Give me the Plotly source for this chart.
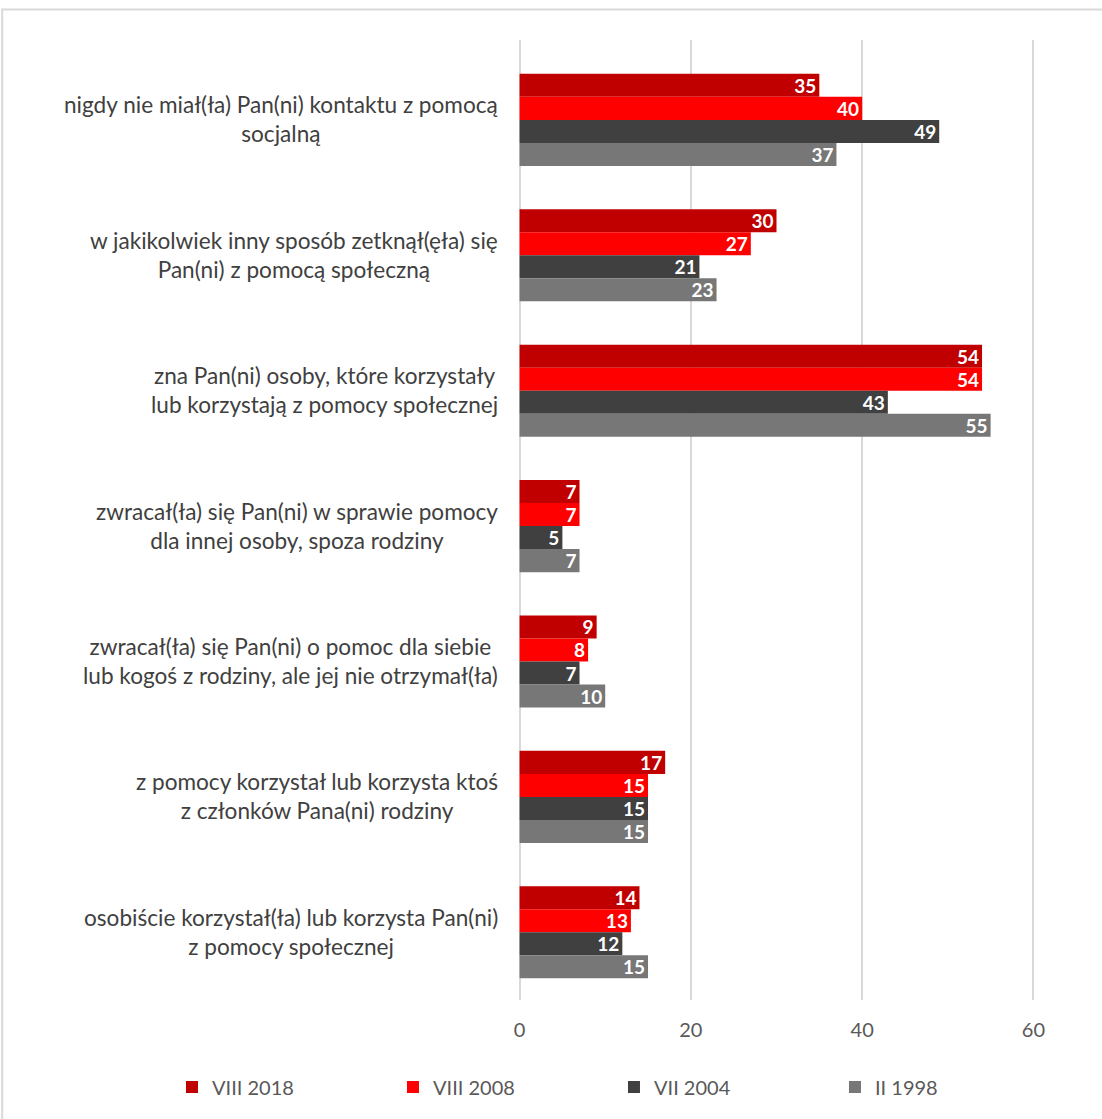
import plotly.graph_objects as go

# ---- data ----
label_line1 = [
    "nigdy nie miał(ła) Pan(ni) kontaktu z pomocą",
    "w jakikolwiek inny sposób zetknął(ęła) się",
    "zna Pan(ni) osoby, które korzystały",
    "zwracał(ła) się Pan(ni) w sprawie pomocy",
    "zwracał(ła) się Pan(ni) o pomoc dla siebie",
    "z pomocy korzystał lub korzysta ktoś",
    "osobiście korzystał(ła) lub korzysta Pan(ni)",
]
label_line2 = [
    "socjalną",
    "Pan(ni) z pomocą społeczną",
    "lub korzystają z pomocy społecznej",
    "dla innej osoby, spoza rodziny",
    "lub kogoś z rodziny, ale jej nie otrzymał(ła)",
    "z członków Pana(ni) rodziny",
    "z pomocy społecznej",
]
categories = [a + " " + b for a, b in zip(label_line1, label_line2)]

series_names = ["VIII 2018", "VIII 2008", "VII 2004", "II 1998"]
v2018 = [35, 30, 54, 7, 9, 17, 14]
v2008 = [40, 27, 54, 7, 8, 15, 13]
v2004 = [49, 21, 43, 5, 7, 15, 12]
v1998 = [37, 23, 55, 7, 10, 15, 15]
series_values = [v2018, v2008, v2004, v1998]
x_ticks = [0, 20, 40, 60]

# ---- styles ----
colors = ["#C00000", "#FF0000", "#404040", "#777777"]
FONT = "Lato"
W, H = 1102, 1119
PXU = 513 / 60.0           # pixels per unit
XMIN, XMAX = -0.3, 60.3
ML = 520 + XMIN * PXU
MR = W - (520 + XMAX * PXU)
MT, MB = 40, 119

fig = go.Figure()
for name, vals, col in zip(series_names, series_values, colors):
    fig.add_trace(go.Bar(
        y=categories, x=vals, name=name, orientation="h",
        marker=dict(color=col, line=dict(width=0)),
        text=vals, textposition="inside", insidetextanchor="end",
        textangle=0, constraintext="none",
        textfont=dict(family=FONT, size=19, color="white", weight="bold"),
        cliponaxis=False,
    ))

FS = 22.6
ann = []
for cat, l1, l2 in zip(categories, label_line1, label_line2):
    ann.append(dict(
        xref="paper", yref="y", x=0, y=cat, xanchor="right", yanchor="middle",
        xshift=497 - ML + 3, yshift=0.5, align="center", showarrow=False,
        text=l1 + "<br>" + l2,
        font=dict(family=FONT, size=FS, color="#404040"),
    ))

# outer chart border
px = lambda p: (p - ML) / (W - ML - MR)
py = lambda p: 1 - (p - MT) / (H - MT - MB)
shapes = [dict(type="rect", xref="paper", yref="paper",
               x0=px(3.5), x1=px(1115), y0=py(1130), y1=py(9.5),
               line=dict(color="#D9D9D9", width=2), fillcolor="rgba(0,0,0,0)",
               layer="below")]

fig.update_layout(
    width=W, height=H,
    margin=dict(l=ML, r=MR, t=MT, b=MB, pad=0, autoexpand=False),
    paper_bgcolor="white", plot_bgcolor="white",
    barmode="group", bargap=0.32, bargroupgap=0,
    font=dict(family=FONT, color="#595959"),
    xaxis=dict(range=[XMIN, XMAX], tickvals=x_ticks, showgrid=True, gridcolor="#D9D9D9",
               gridwidth=1.5, zeroline=False, showline=False, ticks="",
               tickfont=dict(family=FONT, size=20, color="#595959"),
               ticklabelstandoff=16),
    yaxis=dict(type="category", range=[6.5, -0.59], showticklabels=False,
               showgrid=False, zeroline=False, showline=False),
    legend=dict(orientation="h", xref="paper", yref="paper",
                x=px(173), y=py(1087), xanchor="left", yanchor="middle",
                entrywidth=176, entrywidthmode="pixels", itemwidth=30,
                bgcolor="rgba(0,0,0,0)",
                font=dict(family=FONT, size=20, color="#595959"),
                traceorder="normal"),
    annotations=ann,
    shapes=shapes,
)

fig.write_html("out.html")
